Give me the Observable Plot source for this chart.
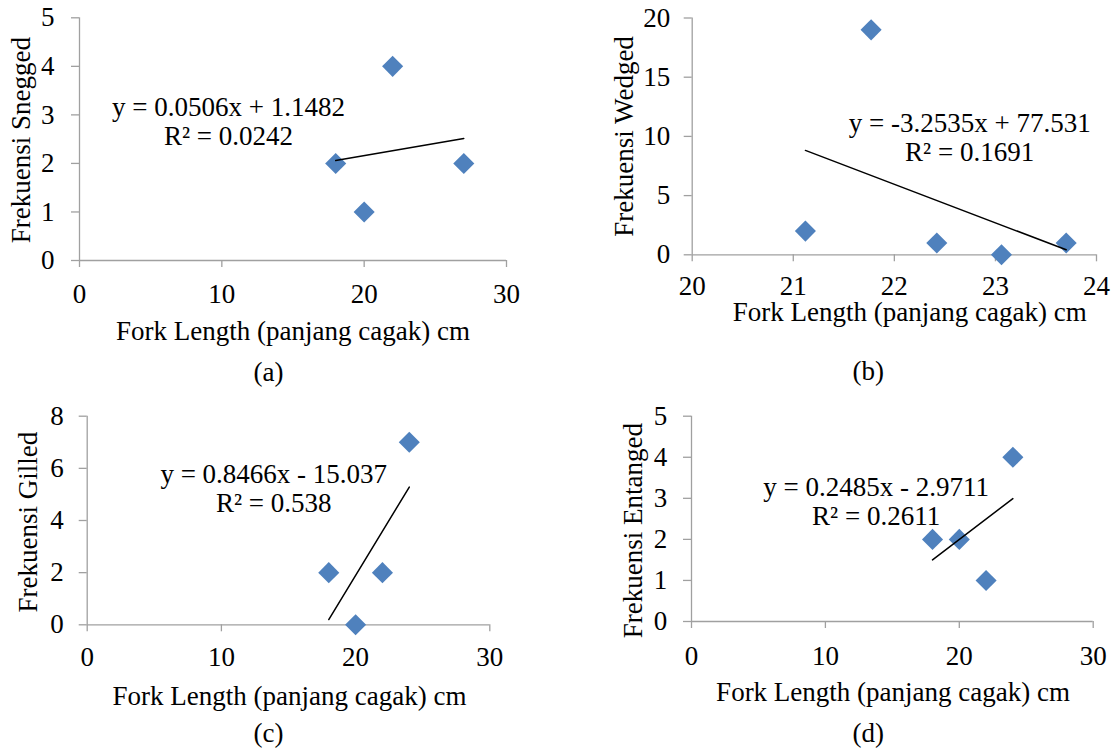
<!DOCTYPE html>
<html>
<head>
<meta charset="utf-8">
<script src="https://cdn.jsdelivr.net/npm/d3@7"></script>
<script src="https://cdn.jsdelivr.net/npm/@observablehq/plot@0.6"></script>
<style>
  html, body { margin: 0; padding: 0; background: #fff; }
  #wrap { position: relative; width: 1116px; height: 753px; background: #fff; overflow: hidden; }
  .panel { position: absolute; }
  .panel svg { overflow: visible; }
</style>
</head>
<body>
<div id="wrap"></div>
<script>
// ---------- data ----------
// (a) Snegged
const snegX = [18, 20, 22, 27];
const snegY = [2, 1, 4, 2];
const snegFit = { slope: 0.0506, intercept: 1.1482 };
const snegEq = "y = 0.0506x + 1.1482\nR² = 0.0242";
// (b) Wedged
const wedgX = [21.12, 21.77, 22.42, 23.06, 23.70];
const wedgY = [2, 19, 1, 0, 1];
const wedgFit = { slope: -3.2535, intercept: 77.531 };
const wedgEq = "y = -3.2535x + 77.531\nR² = 0.1691";
// (c) Gilled
const gillX = [18, 20, 22, 24];
const gillY = [2, 0, 2, 7];
const gillFit = { slope: 0.8466, intercept: -15.037 };
const gillEq = "y = 0.8466x - 15.037\nR² = 0.538";
// (d) Entanged
const entaX = [18, 20, 22, 24];
const entaY = [2, 2, 1, 4];
const entaFit = { slope: 0.2485, intercept: -2.9711 };
const entaEq = "y = 0.2485x - 2.9711\nR² = 0.2611";

// tick labels
const xTicks030 = [0, 10, 20, 30];
const xTicks2024 = [20, 21, 22, 23, 24];
const yTicks05 = [0, 1, 2, 3, 4, 5];
const yTicks020 = [0, 5, 10, 15, 20];
const yTicks08 = [0, 2, 4, 6, 8];

const xTitle = "Fork Length (panjang cagak) cm";
const yTitles = ["Frekuensi Snegged", "Frekuensi Wedged", "Frekuensi Gilled", "Frekuensi Entanged"];
const captions = ["(a)", "(b)", "(c)", "(d)"];

// ---------- style ----------
const FONT = '"Liberation Serif", "Times New Roman", Times, serif';
const FS = 27;
const AXIS = "#a0a0a0";
const BLUE = "#4f81bd";

function panel(p) {
  const pts = p.xs.map((x, i) => ({ x, y: p.ys[i] }));
  const x0 = d3.min(p.xs), x1 = d3.max(p.xs);
  const fit = [x0, x1].map(x => ({ x, y: p.fit.slope * x + p.fit.intercept }));
  const chart = Plot.plot({
    width: p.width,
    height: p.height,
    marginLeft: p.mL, marginRight: p.mR, marginTop: p.mT, marginBottom: p.mB,
    style: { fontFamily: FONT, fontSize: FS + "px", background: "#fff", color: "#000", overflow: "visible" },
    x: { domain: p.xDomain },
    y: { domain: p.yDomain },
    marks: [
      Plot.ruleY([p.yDomain[0]], { stroke: AXIS, strokeWidth: 1.3 }),
      Plot.ruleX([p.xDomain[0]], { stroke: AXIS, strokeWidth: 1.3 }),
      Plot.axisX({ ticks: p.xTicks, tickSize: 7, tickPadding: p.xPad, stroke: AXIS, strokeWidth: 1.3,
                   fill: "#000", fontSize: FS, fontFamily: FONT, label: null, tickFormat: d => String(d) }),
      Plot.axisY({ ticks: p.yTicks, tickSize: 8, tickPadding: p.yPad, stroke: AXIS, strokeWidth: 1.3,
                   fill: "#000", fontSize: FS, fontFamily: FONT, label: null, tickFormat: d => String(d) }),
      Plot.dot(pts, { x: "x", y: "y", symbol: "diamond2", r: 9.5, fill: BLUE, stroke: "none" }),
      Plot.line(fit, { x: "x", y: "y", stroke: "#000", strokeWidth: 1.5 }),
      Plot.text([p.eq], { x: p.eqX, y: p.eqY, text: d => d, fontSize: FS, fontFamily: FONT,
                          textAnchor: "middle", lineAnchor: "middle", lineHeight: 1.07, fill: "#000" }),
      Plot.text([p.yTitle], { frameAnchor: "left", text: d => d, rotate: -90, dx: p.yLdx, dy: p.yLdy,
                              fontSize: FS, fontFamily: FONT, textAnchor: "middle", lineAnchor: "middle", fill: "#000" }),
      Plot.text([xTitle], { frameAnchor: "bottom", text: d => d, dx: p.xLdx, dy: p.xLdy,
                            fontSize: FS, fontFamily: FONT, textAnchor: "middle", lineAnchor: "middle", fill: "#000" }),
      Plot.text([p.caption], { frameAnchor: "bottom", text: d => d, dx: p.cdx, dy: p.cdy,
                               fontSize: FS, fontFamily: FONT, textAnchor: "middle", lineAnchor: "middle", fill: "#000" })
    ]
  });
  const div = document.createElement("div");
  div.className = "panel";
  div.style.left = p.left + "px";
  div.style.top = p.top + "px";
  div.appendChild(chart);
  document.getElementById("wrap").appendChild(div);
}

panel({ left: 0, top: 0, width: 558, height: 390, mL: 79, mR: 52, mT: 17.3, mB: 130,
  xs: snegX, ys: snegY, fit: snegFit, eq: snegEq, eqX: 10.47, eqY: 2.874,
  xDomain: [0, 30], xTicks: xTicks030, yDomain: [0, 5], yTicks: yTicks05, xPad: 16, yPad: 17,
  yTitle: yTitles[0], yLdx: -58, yLdy: 1, xLdx: 0, xLdy: 71, caption: captions[0], cdx: -24.5, cdy: 111.7 });

panel({ left: 558, top: 0, width: 558, height: 390, mL: 133.7, mR: 20, mT: 17.5, mB: 135.7,
  xs: wedgX, ys: wedgY, fit: wedgFit, eq: wedgEq, eqX: 22.745, eqY: 9.91,
  xDomain: [20, 24], xTicks: xTicks2024, yDomain: [0, 20], yTicks: yTicks020, xPad: 14.5, yPad: 14,
  yTitle: yTitles[1], yLdx: -68, yLdy: 0, xLdx: 15.4, xLdy: 58, caption: captions[1], cdx: -26, cdy: 116.7 });

panel({ left: 0, top: 390, width: 558, height: 363, mL: 86.7, mR: 68.7, mT: 25.7, mB: 128.7,
  xs: gillX, ys: gillY, fit: gillFit, eq: gillEq, eqX: 13.9, eqY: 5.235,
  xDomain: [0, 30], xTicks: xTicks030, yDomain: [0, 8], yTicks: yTicks08, xPad: 15.5, yPad: 15.4,
  yTitle: yTitles[2], yLdx: -58.4, yLdy: 1.7, xLdx: 1, xLdy: 71.7, caption: captions[2], cdx: -20, cdy: 108.7 });

panel({ left: 558, top: 390, width: 558, height: 363, mL: 133, mR: 23.3, mT: 25.7, mB: 132,
  xs: entaX, ys: entaY, fit: entaFit, eq: entaEq, eqX: 13.79, eqY: 2.935,
  xDomain: [0, 30], xTicks: xTicks030, yDomain: [0, 5], yTicks: yTicks05, xPad: 17, yPad: 16.3,
  yTitle: yTitles[3], yLdx: -57.7, yLdy: 11.7, xLdx: 0.7, xLdy: 70.7, caption: captions[3], cdx: -24, cdy: 112 });
</script>
</body>
</html>
